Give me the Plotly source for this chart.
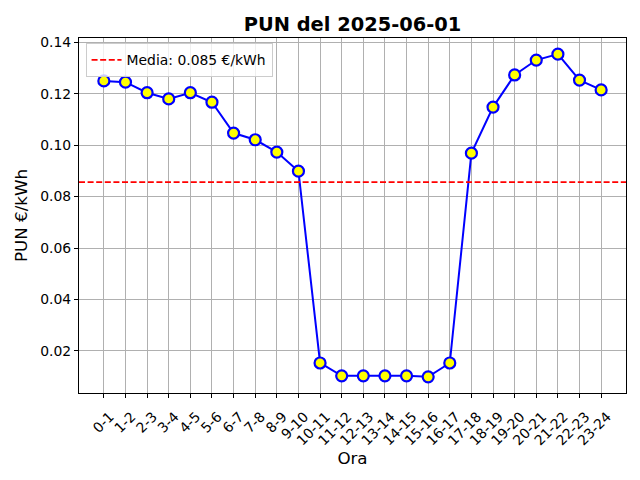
import plotly.graph_objects as go

hours = ["0-1", "1-2", "2-3", "3-4", "4-5", "5-6", "6-7", "7-8", "8-9", "9-10",
         "10-11", "11-12", "12-13", "13-14", "14-15", "15-16", "16-17", "17-18",
         "18-19", "19-20", "20-21", "21-22", "22-23", "23-24"]
pun = [0.1250, 0.1245, 0.1204, 0.1180, 0.1204, 0.1167, 0.1047, 0.1021, 0.0973, 0.0899,
       0.0153, 0.0103, 0.0103, 0.0103, 0.0103, 0.0099, 0.0153, 0.0969,
       0.1148, 0.1273, 0.1331, 0.1354, 0.1253, 0.1215]
mean_label = "Media: 0.085 €/kWh"
title = "PUN del 2025-06-01"
y_ticks = [0.02, 0.04, 0.06, 0.08, 0.10, 0.12, 0.14]

mean_val = sum(pun) / len(pun)
idx = list(range(len(hours)))

ymin, ymax = min(pun), max(pun)
pad = (ymax - ymin) * 0.05
xpad = (len(hours) - 1) * 0.05

FONT = "DejaVu Sans"
OFF = 8  # page body margin offset

fig = go.Figure()
fig.add_trace(go.Scatter(
    x=idx, y=pun, mode="lines+markers",
    line=dict(color="blue", width=2),
    marker=dict(size=11, color="yellow", line=dict(color="blue", width=2.2)),
    showlegend=False,
))
fig.add_shape(type="line", xref="paper", x0=0, x1=1, yref="y", y0=mean_val, y1=mean_val,
              line=dict(color="red", width=1.8, dash="6px,2.6px"),
              showlegend=True, name=mean_label, layer="above")

fig.update_layout(
    width=640, height=480,
    paper_bgcolor="white", plot_bgcolor="white",
    margin=dict(l=79 - OFF, r=14 + OFF, t=38 - OFF, b=87 + OFF, autoexpand=False),
    font=dict(family=FONT, color="black", size=13.9),
    title=dict(text="<b>" + title + "</b>", x=((79 + 626) / 2 - OFF) / 640, xanchor="center",
               y=1 - (24 - OFF) / 480, yanchor="middle", font=dict(size=19.4, family=FONT)),
    legend=dict(x=0.012, y=0.985, xanchor="left", yanchor="top",
                bgcolor="rgba(255,255,255,0.8)", bordercolor="#cccccc", borderwidth=1,
                font=dict(size=13.9, family=FONT)),
)
fig.update_xaxes(
    range=[-xpad, len(hours) - 1 + xpad],
    tickmode="array", tickvals=idx, ticktext=hours, tickangle=-45,
    ticklabelshift=6, ticklabelstandoff=5,
    showgrid=True, gridcolor="#b0b0b0", gridwidth=1,
    showline=True, linecolor="black", linewidth=1, mirror=True,
    ticks="outside", ticklen=4, tickcolor="black",
    title=dict(text="Ora", font=dict(size=16.7, family=FONT), standoff=2),
    zeroline=False,
)
fig.update_yaxes(
    range=[ymin - pad, ymax + pad],
    tickmode="array", tickvals=y_ticks, ticktext=[f"{v:.2f}" for v in y_ticks],
    showgrid=True, gridcolor="#b0b0b0", gridwidth=1,
    showline=True, linecolor="black", linewidth=1, mirror=True,
    ticks="outside", ticklen=4, tickcolor="black",
    title=dict(text="PUN €/kWh", font=dict(size=16.7, family=FONT), standoff=8),
    zeroline=False,
)
fig.write_html("out.html")
